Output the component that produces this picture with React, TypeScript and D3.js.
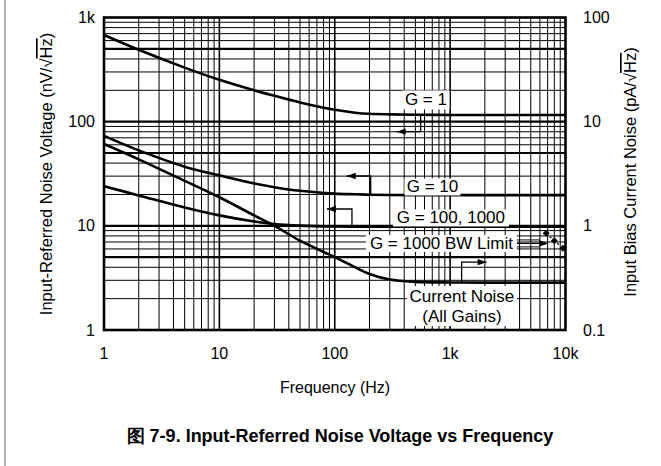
import React from "react";
import * as d3 from "d3";

const freqs = [1, 2, 5, 10, 20, 30, 50, 100, 150, 200, 300, 500, 1000, 2000, 5000, 10000];
const g1Noise = [680, 490, 330, 252, 200, 177, 153, 130, 122, 119, 117.5, 116.5, 116, 116, 116, 116];
const g10Noise = [73, 53, 37, 30.5, 25.5, 23.5, 21.7, 20.4, 20.1, 19.9, 19.8, 19.7, 19.7, 19.7, 19.7, 19.7];
const g100Noise = [24, 19.6, 15, 12.6, 11, 10.4, 10.05, 9.85, 9.82, 9.8, 9.8, 9.8, 9.8, 9.8, 9.8, 9.8];
const currentNoiseX10 = [61, 43.5, 27, 18.8, 12.6, 10, 7.2, 5.0, 4.0, 3.45, 3.05, 2.9, 2.86, 2.85, 2.85, 2.85];
const bwLimitFreqs = [6800, 8000, 9500];
const bwLimitNoise = [8.5, 7.2, 6.1];

const xTickVals = [1, 10, 100, 1000, 10000];
const xTickLabels = ["1", "10", "100", "1k", "10k"];
const yTickVals = [1, 10, 100, 1000];
const yTickLabels = ["1", "10", "100", "1k"];
const y2TickVals = [0.1, 1, 10, 100];
const y2TickLabels = ["0.1", "1", "10", "100"];

const FONT = "'Liberation Sans', Arial, Helvetica, sans-serif";

export default function App() {
  const W = 661, H = 466;
  const x = d3.scaleLog().domain([1, 10000]).range([104, 565.5]);
  const y = d3.scaleLog().domain([1, 1000]).range([330, 17.5]);
  const y2 = d3.scaleLog().domain([0.1, 100]).range([330, 17.5]);

  const line = d3
    .line<[number, number]>()
    .x((d) => x(d[0]))
    .y((d) => y(d[1]))
    .curve(d3.curveCatmullRom.alpha(0.5));

  const series = [g1Noise, g10Noise, g100Noise, currentNoiseX10];

  const hGrid: number[] = [];
  for (let k = 0; k < 3; k++) for (let m = 1; m <= 9; m++) hGrid.push(m * Math.pow(10, k));
  const vGrid: number[] = [];
  for (let k = 0; k < 4; k++) for (let m = 1; m <= 9; m++) vGrid.push(m * Math.pow(10, k));
  const thickH = new Set([5, 10, 50, 100, 500]);
  const thickV = new Set([10, 100, 1000]);

  const arrowHead = (px: number, py: number, dir: "left" | "right") => {
    const L = 9, Hh = 3.2;
    const pts =
      dir === "left"
        ? [[px, py], [px + L, py - Hh], [px + L, py + Hh]]
        : [[px, py], [px - L, py - Hh], [px - L, py + Hh]];
    return <polygon points={pts.map((p) => p.join(",")).join(" ")} fill="#000" />;
  };

  const elbow = (f0: number, v0: number, v1: number, f1: number, dir: "left" | "right") => {
    const x0 = x(f0), yy0 = y(v0), yy1 = y(v1), x1 = x(f1);
    return (
      <g>
        <path d={`M${x0},${yy0}V${yy1}H${x1}`} fill="none" stroke="#000" strokeWidth={1.3} />
        {arrowHead(x1, yy1, dir)}
      </g>
    );
  };

  const labelBox = (fc: number, vc: number, w: number, h: number) => (
    <rect x={x(fc) - w / 2} y={y(vc) - h / 2} width={w} height={h} fill="#fff" />
  );

  const label = (fc: number, vc: number, txt: string) => (
    <text x={x(fc)} y={y(vc)} textAnchor="middle" dominantBaseline="central" fontSize={17}>
      {txt}
    </text>
  );

  const bwPts = bwLimitFreqs.map((f, i) => [f, bwLimitNoise[i]] as [number, number]);

  return (
    <svg width={W} height={H} style={{ position: "absolute", left: 0, top: 0, background: "#fff" }} fontFamily={FONT}>
      <rect x={0} y={0} width={W} height={H} fill="#fff" />
      <line x1={5} y1={0} x2={5} y2={H} stroke="#999" strokeWidth={1.5} />

      {hGrid.map((v) => (
        <line key={"h" + v} x1={x(1)} x2={x(10000)} y1={y(v)} y2={y(v)} stroke="#000" strokeWidth={thickH.has(v) ? 2.2 : 1} />
      ))}
      {vGrid.map((f) => (
        <line key={"v" + f} x1={x(f)} x2={x(f)} y1={y(1)} y2={y(1000)} stroke="#000" strokeWidth={thickV.has(f) ? 1.6 : 1} />
      ))}

      {series.map((s, i) => (
        <path key={"s" + i} d={line(freqs.map((f, j) => [f, s[j]] as [number, number])) || ""} fill="none" stroke="#000" strokeWidth={2.6} />
      ))}

      {labelBox(617, 161.7, 47, 19)}
      {labelBox(703, 23.6, 56, 17)}
      {labelBox(1016, 11.9, 116, 17)}
      {labelBox(841, 6.78, 151, 17)}
      <rect x={x(1265) - 55} y={y(2.12) - 10} width={110} height={40} fill="#fff" />

      <path d={line(bwPts) || ""} fill="none" stroke="#000" strokeWidth={1.2} strokeDasharray="2,3" />
      {bwPts.map((p, i) => {
        const cx = x(p[0]), cy = y(p[1]);
        return <polygon key={"bw" + i} points={`${cx},${cy - 3.5} ${cx + 3.5},${cy} ${cx},${cy + 3.5} ${cx - 3.5},${cy}`} fill="#000" />;
      })}

      {label(617, 161.7, "G = 1")}
      {label(703, 23.6, "G = 10")}
      {label(1016, 11.9, "G = 100, 1000")}
      {label(841, 6.78, "G = 1000 BW Limit")}
      {label(1265, 2.12, "Current Noise")}
      {label(1265, 1.345, "(All Gains)")}

      {elbow(555, 116, 80.2, 344, "left")}
      {elbow(205, 19.8, 30.1, 127, "left")}
      {elbow(141, 9.8, 14.5, 85.6, "left")}
      {elbow(1258, 2.85, 4.48, 2071, "right")}
      <line x1={x(841) + 75.5} x2={x(6600)} y1={y(6.78)} y2={y(6.78)} stroke="#000" strokeWidth={1.2} />
      <line x1={x(841) + 75.5} x2={x(6000)} y1={y(6.78) - 3.5} y2={y(6.78) - 3.5} stroke="#000" strokeWidth={1} />
      <line x1={x(841) + 75.5} x2={x(6000)} y1={y(6.78) + 3.5} y2={y(6.78) + 3.5} stroke="#000" strokeWidth={1} />
      {arrowHead(x(7100), y(6.78), "right")}

      <rect x={x(1)} y={y(1000)} width={x(10000) - x(1)} height={y(1) - y(1000)} fill="none" stroke="#000" strokeWidth={2.6} />

      {yTickVals.map((v, i) => (
        <text key={"yl" + v} x={95} y={y(v)} textAnchor="end" dominantBaseline="central" fontSize={16}>
          {yTickLabels[i]}
        </text>
      ))}
      {y2TickVals.map((v, i) => (
        <text key={"yr" + v} x={583} y={y2(v)} textAnchor="start" dominantBaseline="central" fontSize={16}>
          {y2TickLabels[i]}
        </text>
      ))}
      {xTickVals.map((f, i) => (
        <text key={"xl" + f} x={x(f)} y={353} textAnchor="middle" dominantBaseline="central" fontSize={16}>
          {xTickLabels[i]}
        </text>
      ))}

      <text transform={`translate(46,174) rotate(-90)`} textAnchor="middle" dominantBaseline="central" fontSize={16.5}>
        Input-Referred Noise Voltage (nV/√<tspan style={{ textDecoration: "overline" }}>Hz</tspan>)
      </text>
      <text transform={`translate(630,172) rotate(-90)`} textAnchor="middle" dominantBaseline="central" fontSize={16.5}>
        Input Bias Current Noise (pA/√<tspan style={{ textDecoration: "overline" }}>Hz</tspan>)
      </text>
      <text x={335} y={387} textAnchor="middle" dominantBaseline="central" fontSize={16}>
        Frequency (Hz)
      </text>
      <text x={340} y={436} textAnchor="middle" dominantBaseline="central" fontSize={18} fontWeight="bold">
        图 7-9. Input-Referred Noise Voltage vs Frequency
      </text>
    </svg>
  );
}
